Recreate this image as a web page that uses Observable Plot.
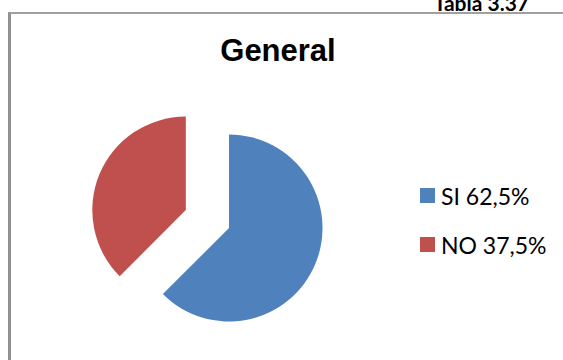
<!DOCTYPE html>
<html>
<head>
<meta charset="utf-8">
<script src="https://cdn.jsdelivr.net/npm/d3@7"></script>
<script src="https://cdn.jsdelivr.net/npm/@observablehq/plot@0.6"></script>
<style>
  html, body { margin: 0; padding: 0; background: #fff; }
  #wrap { position: relative; width: 563px; height: 360px; overflow: hidden; background: #fff; }
  #frame { position: absolute; left: 8px; top: 12px; width: 600px; height: 400px;
           border-left: 3px solid #909090; border-top: 2px solid #a0a0a0; box-sizing: border-box; }
  #tabla { position: absolute; right: 34px; top: -8px; font: bold 21px Lato, sans-serif; line-height: 1; color: #000; white-space: nowrap; }
  #title { position: absolute; left: 178px; width: 200px; top: 35px; text-align: center;
           font: bold 31px "Liberation Sans", Arial, sans-serif; line-height: 1; color: #000; }
  #chart { position: absolute; left: 0; top: 0; }
  #legend { position: absolute; left: 420px; top: 182px; }
  #legend .lg-swatches { font: 23px Lato, sans-serif !important; color: #000; margin: 0 !important; min-height: 0 !important;
                         display: flex !important; flex-direction: column !important; align-items: flex-start !important; }
  #legend .lg-swatch { display: flex !important; align-items: center !important; height: 27px; margin: 0 0 22px 0 !important; }
  #legend .lg-swatch > svg { margin-right: 6px !important; }
</style>
</head>
<body>
<div id="wrap">
  <div id="frame"></div>
  <div id="tabla">Tabla 3.37</div>
  <div id="title">General</div>
  <div id="chart"></div>
  <div id="legend"></div>
</div>
<script>
const tableLabel = "Tabla 3.37";
const chartTitle = "General";
const categories = ["SI", "NO"];
const percents = [62.5, 37.5];
const colors = ["#4F81BD", "#C0504D"];

const data = categories.map((label, i) => ({label, value: percents[i]}));
const fmt = v => String(v).replace(".", ",") + "%";
const valueOf = new Map(data.map(d => [d.label, d.value]));

document.getElementById("tabla").textContent = tableLabel;
document.getElementById("title").textContent = chartTitle;

function pieMark(index, scales, values, dims) {
  const W = dims.width, H = dims.height;
  const x0 = dims.marginLeft, x1 = W - dims.marginRight;
  const y0 = dims.marginTop, y1 = H - dims.marginBottom;
  const cx = scales && scales.x ? scales.x(0) : (x0 + x1) / 2;
  const cy = scales && scales.y ? scales.y(0) : (y0 + y1) / 2;
  const r = scales && scales.x ? Math.abs(scales.x(1) - scales.x(0)) : (x1 - x0) / 2;
  const colorOf = scales && scales.color ? scales.color : (l => colors[categories.indexOf(l)]);
  const arcs = d3.pie().sort(null).value(d => d.value)(data);
  const arc = d3.arc().innerRadius(0).outerRadius(r);
  const g = d3.create("svg:g").attr("transform", `translate(${cx},${cy})`);
  g.selectAll("path").data(arcs).join("path")
    .attr("d", arc)
    .attr("fill", d => colorOf(d.data.label))
    .attr("transform", d => {
      if (d.data.label !== "NO") return null;
      const mid = (d.startAngle + d.endAngle) / 2;
      const off = 0.5 * r;
      return `translate(${Math.sin(mid) * off},${-Math.cos(mid) * off})`;
    });
  return g.node();
}

const plot = Plot.plot({
  width: 563,
  height: 360,
  marginLeft: 135.5,
  marginRight: 240.5,
  marginTop: 134.5,
  marginBottom: 38.5,
  x: {domain: [-1, 1], axis: null},
  y: {domain: [-1, 1], axis: null},
  color: {domain: categories, range: colors},
  style: {background: "transparent", overflow: "visible"},
  marks: [
    Plot.dot(data, {x: () => 0, y: () => 0, fill: "label", r: 0}),
    pieMark
  ]
});
document.getElementById("chart").append(plot);

const legend = plot.legend("color", {
  className: "lg",
  swatchSize: 15,
  tickFormat: l => `${l} ${fmt(valueOf.get(l))}`
});
document.getElementById("legend").append(legend);
</script>
</body>
</html>
